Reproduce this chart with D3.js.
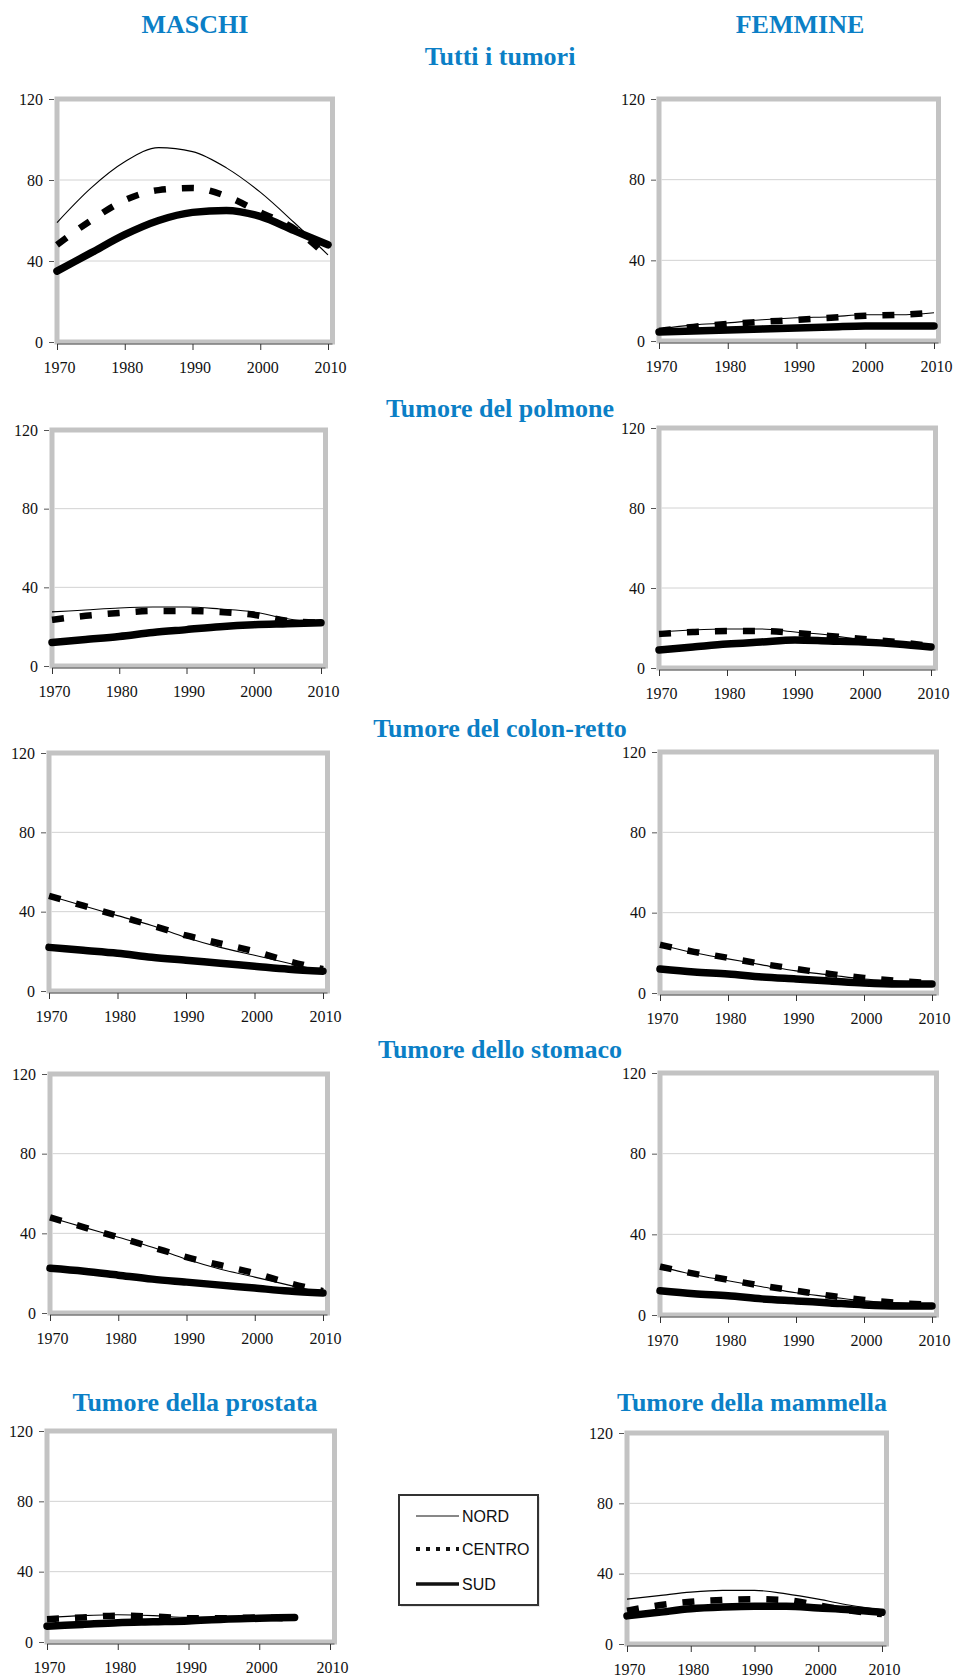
<!DOCTYPE html>
<html>
<head>
<meta charset="utf-8">
<script src="https://cdn.jsdelivr.net/npm/d3@7"></script>
<style>
    body { margin: 0; background: #fff; }
    svg { display: block; }
    .title { font-family: "Liberation Serif", "Times New Roman", serif; font-weight: bold; fill: #0b7fc6; font-size: 26px; text-anchor: middle; }
    .legend text { font-family: "Liberation Sans", Arial, sans-serif; font-size: 16px; fill: #111; }
</style>
</head>
<body>
<div id="chart"></div>
<script>
const years = [1970, 1975, 1980, 1985, 1990, 1995, 2000, 2005, 2010]
const yearsProstata = [1970, 1975, 1980, 1985, 1990, 1995, 2000, 2005]
const xTicks = [1970, 1980, 1990, 2000, 2010]
const yTicks = [0, 40, 80, 120]
const seriesNames = ['NORD', 'CENTRO', 'SUD']

// Tutti i tumori
const mTuttiNord = [59, 76, 89, 96, 94, 86, 74, 59, 43]
const mTuttiCentro = [48, 60, 70, 75, 76, 72, 64, 56, 42]
const mTuttiSud = [35, 44, 53, 60, 64, 65, 62, 55, 48]
const fTuttiNord = [6, 8, 9, 10.5, 11.5, 12, 13, 13, 14]
const fTuttiCentro = [5, 7, 8.5, 9.5, 10.5, 11.5, 12.5, 13, 14]
const fTuttiSud = [4.5, 5, 5.5, 6, 6.5, 7, 7.5, 7.5, 7.5]

// Tumore del polmone
const mPolmoneNord = [27.5, 28.5, 29.5, 30, 30, 29, 27.5, 24, 22]
const mPolmoneCentro = [23.5, 25.5, 27, 28, 28, 27.5, 26, 23, 22]
const mPolmoneSud = [12, 13.5, 15, 17, 18.5, 20, 21, 21.5, 22]
const fPolmoneNord = [18, 19, 19.5, 19.5, 18, 16.5, 14, 12.5, 11]
const fPolmoneCentro = [17, 18, 18.5, 18.5, 17.5, 16, 14.5, 13, 11]
const fPolmoneSud = [9, 10.5, 12, 13, 14, 13.5, 13, 12, 10.5]

// Tumore del colon-retto
const mColonNord = [48, 43, 38, 33, 27, 22, 18, 14, 10]
const mColonCentro = [48, 43, 38, 33, 28, 24, 20, 15, 11]
const mColonSud = [22, 20.5, 19, 17, 15.5, 14, 12.5, 11, 10]
const fColonNord = [24, 20, 17, 14, 11, 9, 7, 6, 5]
const fColonCentro = [24, 20.5, 17.5, 14.5, 12, 9.5, 7.5, 6, 5]
const fColonSud = [12, 10.5, 9.5, 8, 7, 6, 5, 4.5, 4.5]

// Tumore dello stomaco
const mStomacoNord = [48, 43, 38, 33, 27, 22, 18, 14, 10]
const mStomacoCentro = [48, 43, 38, 33, 28, 24, 20, 15, 11]
const mStomacoSud = [22.5, 21, 19, 17, 15.5, 14, 12.5, 11, 10]
const fStomacoNord = [24, 20, 17, 14, 11, 9, 7, 6, 5]
const fStomacoCentro = [24, 20.5, 17.5, 14.5, 12, 9.5, 7.5, 6, 5]
const fStomacoSud = [12, 10.5, 9.5, 8, 7, 6, 5, 4.5, 4.5]

// Tumore della prostata / mammella
const mProstataNord = [14, 15, 15.5, 15, 14, 14, 14.5, 14.5]
const mProstataCentro = [13, 14, 15, 14.5, 13.5, 13.5, 14, 13]
const mProstataSud = [9, 10, 11, 11.5, 12, 13, 13.5, 14]
const fMammellaNord = [25.5, 27.5, 29.5, 30.5, 30.5, 28.5, 25.5, 22, 19.5]
const fMammellaCentro = [19, 22, 24, 25, 25.5, 25, 22, 19, 17]
const fMammellaSud = [16, 18, 20, 21, 21.5, 21.5, 20.5, 19.5, 18]

const headings = [
    { text: 'MASCHI', x: 195, y: 33 },
    { text: 'FEMMINE', x: 800, y: 33 },
    { text: 'Tutti i tumori', x: 500, y: 65 },
    { text: 'Tumore del polmone', x: 500, y: 417 },
    { text: 'Tumore del colon-retto', x: 500, y: 737 },
    { text: 'Tumore dello stomaco', x: 500, y: 1058 },
    { text: 'Tumore della prostata', x: 195, y: 1411 },
    { text: 'Tumore della mammella', x: 752, y: 1411 },
]

// plot boxes: x of 1970 / 2010, y of 120 / 0
const panels = [
    { x0: 57, x1: 328, yTop: 99, yBot: 342, years, series: [mTuttiNord, mTuttiCentro, mTuttiSud] },
    { x0: 659, x1: 934, yTop: 99, yBot: 341, years, series: [fTuttiNord, fTuttiCentro, fTuttiSud] },
    { x0: 52, x1: 321, yTop: 430, yBot: 666, years, series: [mPolmoneNord, mPolmoneCentro, mPolmoneSud] },
    { x0: 659, x1: 931, yTop: 428, yBot: 668, years, series: [fPolmoneNord, fPolmoneCentro, fPolmoneSud] },
    { x0: 49, x1: 323, yTop: 753, yBot: 991, years, series: [mColonNord, mColonCentro, mColonSud] },
    { x0: 660, x1: 932, yTop: 752, yBot: 993, years, series: [fColonNord, fColonCentro, fColonSud] },
    { x0: 50, x1: 323, yTop: 1074, yBot: 1313, years, series: [mStomacoNord, mStomacoCentro, mStomacoSud] },
    { x0: 660, x1: 932, yTop: 1073, yBot: 1315, years, series: [fStomacoNord, fStomacoCentro, fStomacoSud] },
    { x0: 47, x1: 330, yTop: 1431, yBot: 1642, years: yearsProstata, series: [mProstataNord, mProstataCentro, mProstataSud] },
    { x0: 627, x1: 882, yTop: 1433, yBot: 1644, years, series: [fMammellaNord, fMammellaCentro, fMammellaSud] },
]

const lineStyles = {
    NORD: { width: 1.1, dash: null, cap: 'butt' },
    CENTRO: { width: 6.5, dash: '12,16', cap: 'butt' },
    SUD: { width: 7.5, dash: null, cap: 'round' },
}

const tickFont = '"Liberation Serif", "Times New Roman", serif'

const svg = d3.select('#chart').append('svg')
    .attr('width', 973)
    .attr('height', 1680)

svg.append('g')
    .selectAll('text')
    .data(headings)
    .join('text')
    .attr('class', 'title')
    .attr('x', d => d.x)
    .attr('y', d => d.y)
    .text(d => d.text)

for (const p of panels) {
    const x = d3.scaleLinear().domain([1970, 2010]).range([p.x0, p.x1])
    const y = d3.scaleLinear().domain([0, 120]).range([p.yBot, p.yTop])
    const right = x(2010) + 4.5
    const g = svg.append('g')

    // plot area with thick grey border
    g.append('rect')
        .attr('x', x(1970))
        .attr('y', y(120))
        .attr('width', right - x(1970))
        .attr('height', y(0) - y(120))
        .attr('fill', '#fff')
        .attr('stroke', '#c3c3c3')
        .attr('stroke-width', 5)

    // gridlines
    g.append('g')
        .selectAll('line')
        .data([40, 80])
        .join('line')
        .attr('x1', x(1970) + 2.5)
        .attr('x2', right - 2.5)
        .attr('y1', d => y(d))
        .attr('y2', d => y(d))
        .attr('stroke', '#d2d2d2')
        .attr('stroke-width', 1)

    const yAxis = g.append('g')
        .attr('transform', `translate(${x(1970) - 3},0)`)
        .call(d3.axisLeft(y).tickValues(yTicks).tickSize(5).tickPadding(6))
    yAxis.select('.domain').remove()
    yAxis.selectAll('.tick line').attr('stroke', '#555')

    const xAxis = g.append('g')
        .attr('transform', `translate(0,${y(0) + 2})`)
        .call(d3.axisBottom(x).tickValues(xTicks).tickFormat(d3.format('d')).tickSize(6).tickPadding(12))
    xAxis.select('.domain').attr('stroke', '#555').attr('d', `M${x(1970)},0H${right}`)
    xAxis.selectAll('.tick line').attr('stroke', '#333')
    xAxis.selectAll('.tick text').attr('dx', 2)

    for (const ax of [xAxis, yAxis]) {
        ax.attr('font-family', null).attr('font-size', null)
        ax.selectAll('.tick text')
            .style('font-family', tickFont)
            .style('font-size', '16px')
            .style('fill', '#111')
    }

    const line = d3.line()
        .x((d, i) => x(p.years[i]))
        .y(d => y(d))
        .curve(d3.curveMonotoneX)

    p.series.forEach((values, i) => {
        const st = lineStyles[seriesNames[i]]
        g.append('path')
            .datum(values)
            .attr('fill', 'none')
            .attr('stroke', '#000')
            .attr('stroke-width', st.width)
            .attr('stroke-dasharray', st.dash)
            .attr('stroke-linecap', st.cap)
            .attr('stroke-linejoin', 'round')
            .attr('d', line)
    })
}

// legend
const legend = svg.append('g').attr('class', 'legend')
legend.append('rect')
    .attr('x', 401).attr('y', 1497).attr('width', 139).attr('height', 110)
    .attr('fill', '#e6e6e6')
legend.append('rect')
    .attr('x', 399).attr('y', 1495).attr('width', 139).attr('height', 110)
    .attr('fill', '#fff').attr('stroke', '#333').attr('stroke-width', 2)

const legendItems = seriesNames.map((name, i) => ({ name, y: [1516, 1549, 1584][i] }))
const legendStyles = { NORD: [1, null], CENTRO: [4, '4,6'], SUD: [3.5, null] }
legend.selectAll('line.item')
    .data(legendItems)
    .join('line')
    .attr('class', 'item')
    .attr('x1', 416).attr('x2', 459)
    .attr('y1', d => d.y).attr('y2', d => d.y)
    .attr('stroke', '#111')
    .attr('stroke-width', d => legendStyles[d.name][0])
    .attr('stroke-dasharray', d => legendStyles[d.name][1])
legend.selectAll('text')
    .data(legendItems)
    .join('text')
    .attr('x', 462)
    .attr('y', d => d.y + 6)
    .text(d => d.name)
</script>
</body>
</html>
